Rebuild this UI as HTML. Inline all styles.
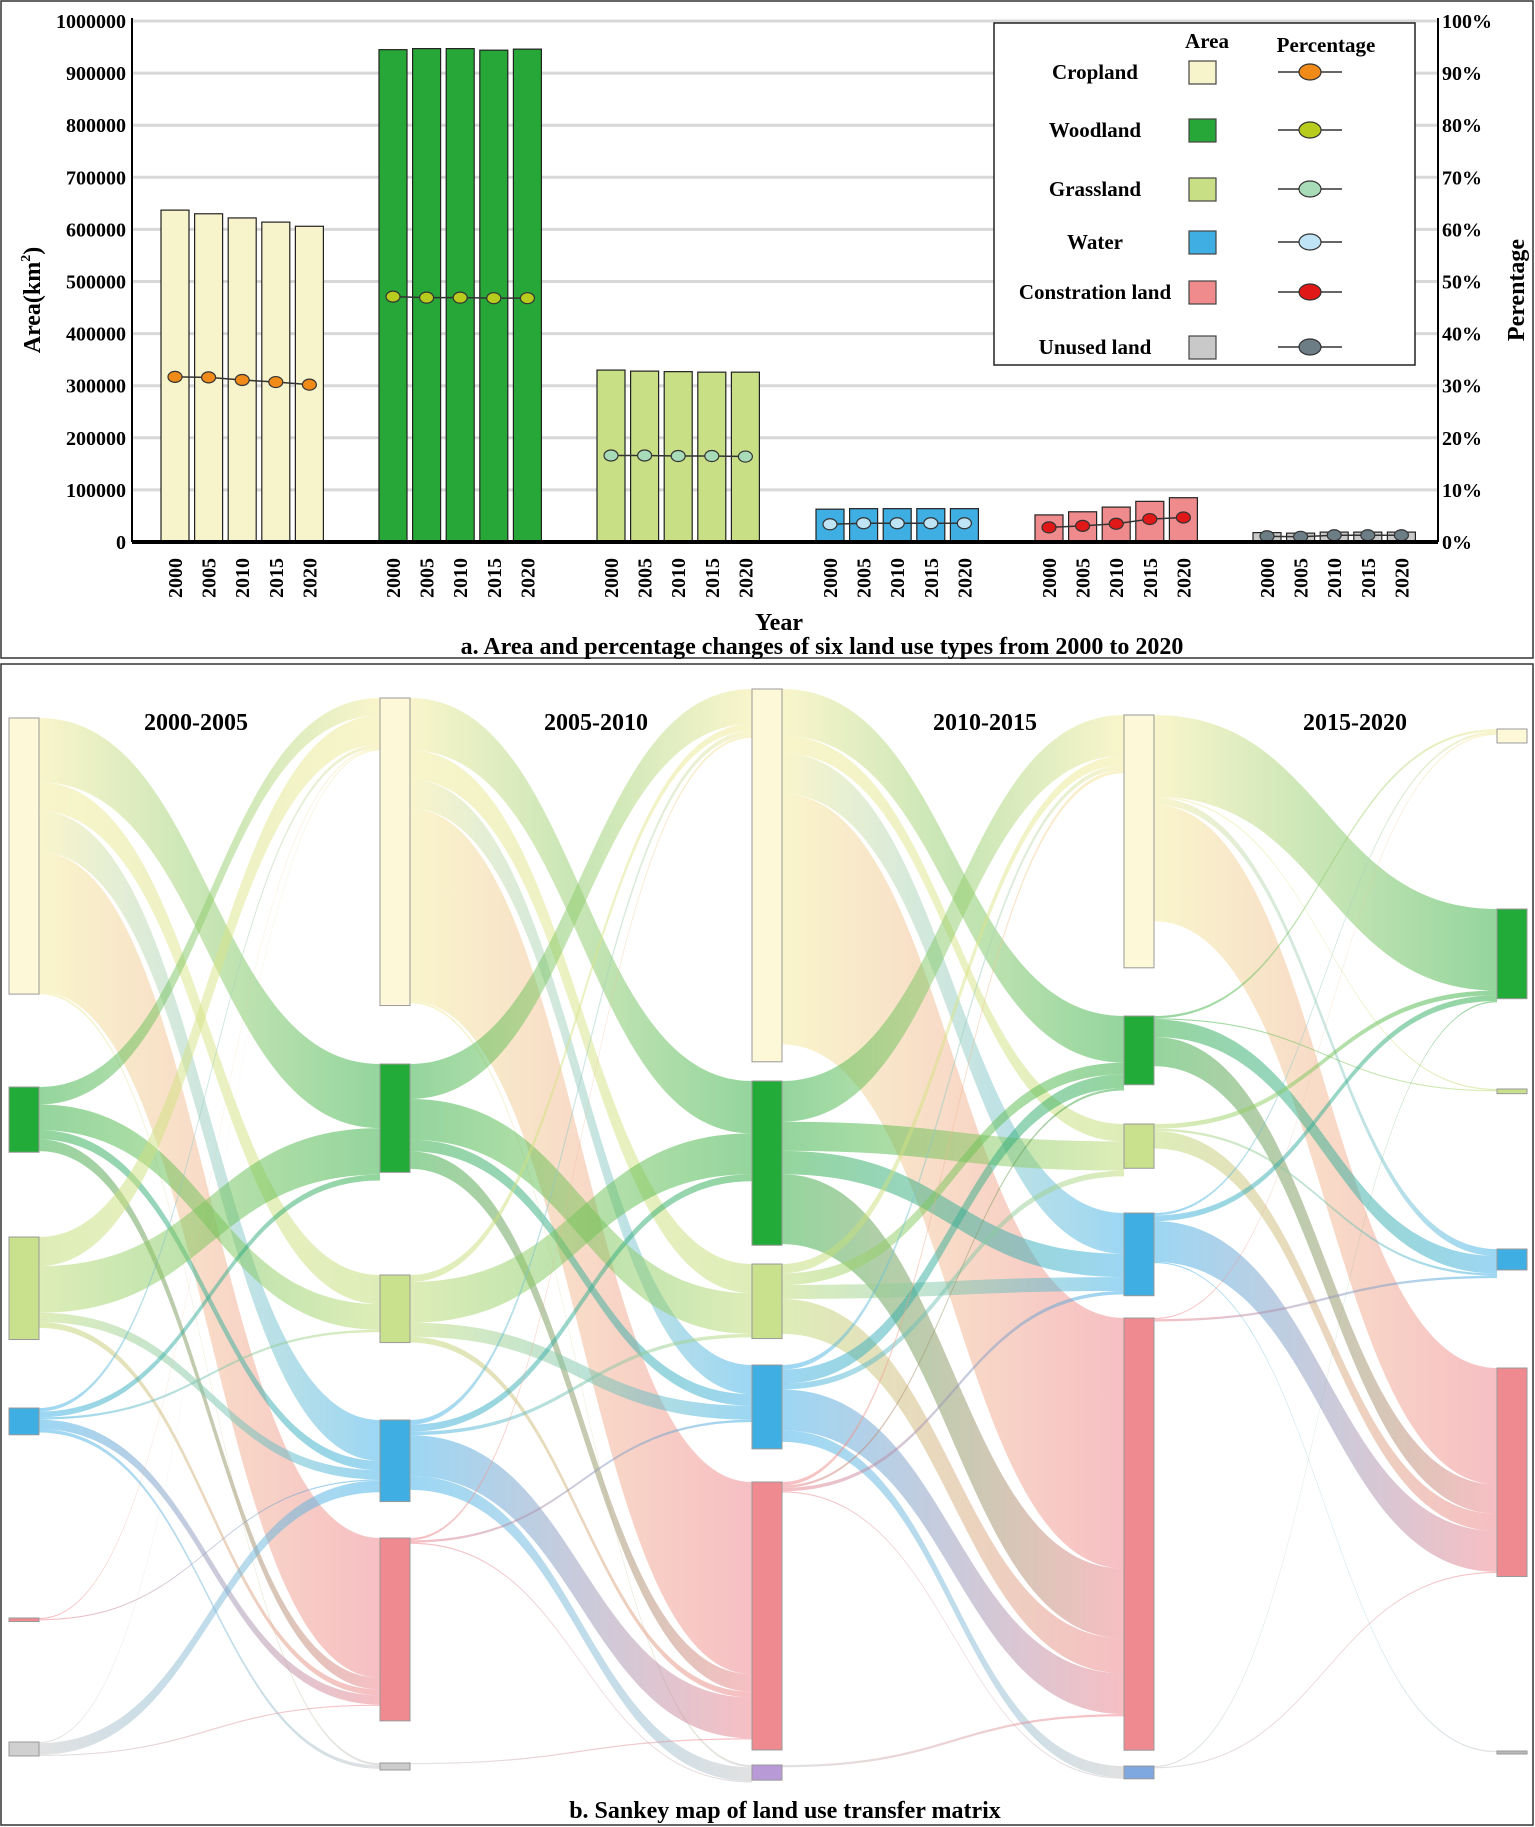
<!DOCTYPE html>
<html><head><meta charset="utf-8">
<style>
html,body{margin:0;padding:0;background:#fff;}
svg{display:block;font-family:"Liberation Serif",serif;font-weight:bold;}
</style></head>
<body>
<svg id="fig" width="1535" height="1827" viewBox="0 0 1535 1827" xmlns="http://www.w3.org/2000/svg">
<rect x="1" y="1" width="1532" height="657" fill="none" stroke="#333" stroke-width="1.5"/>
<rect x="1" y="664" width="1532" height="1161" fill="none" stroke="#333" stroke-width="1.5"/>
<g id="chartA"></g>
<g id="sankey"></g>
</svg>
<script>
// ---------- Chart A data ----------
const categories = ["Cropland","Woodland","Grassland","Water","Constration land","Unused land"];
const years = ["2000","2005","2010","2015","2020"];
const areaCropland = [637000,630000,622000,614000,606000];
const areaWoodland = [945000,947000,947000,944000,946000];
const areaGrassland = [330000,328000,327000,326000,326000];
const areaWater = [63000,64000,64000,64000,64000];
const areaConstruction = [52000,58000,67000,78000,85000];
const areaUnused = [18000,17000,19000,19000,19000];
const pctCropland = [31.7,31.6,31.1,30.7,30.2];
const pctWoodland = [47.1,46.9,46.9,46.8,46.8];
const pctGrassland = [16.6,16.6,16.5,16.5,16.4];
const pctWater = [3.4,3.6,3.6,3.6,3.6];
const pctConstruction = [2.8,3.1,3.5,4.4,4.7];
const pctUnused = [1.1,1.0,1.3,1.3,1.3];
const leftTicks = [0,100000,200000,300000,400000,500000,600000,700000,800000,900000,1000000];
const rightTicks = [0,10,20,30,40,50,60,70,80,90,100];

// ---------- Sankey data (node sizes and transfer flows) ----------
const nodeNames = ["Cropland","Woodland","Grassland","Water","Construction","Unused"];
const periods = ["2000-2005","2005-2010","2010-2015","2015-2020"];
const nodeSize2000 = [237,56,88,23,3,12];
const nodeSize2005 = [264,93,58,70,157,6];
const nodeSize2010 = [320,141,64,72,230,13];
const nodeSize2015 = [217,59,38,71,371,11];
const nodeSize2020 = [12,77,4,18,179,2];
const flows2000_2005 = [[0,1,55],[0,2,25],[0,3,35],[0,4,120],[0,5,2],[1,0,15],[1,2,22],[1,3,8],[1,4,10],[2,0,25],[2,1,40],[2,3,8],[2,4,5],[3,0,3],[3,1,5],[3,2,2],[3,4,8],[3,5,3],[4,0,1],[4,3,1],[5,0,1],[5,3,10],[5,4,1]];
const flows2005_2010 = [[0,1,45],[0,2,25],[0,3,25],[0,4,165],[0,5,2],[1,0,30],[1,2,35],[1,3,10],[1,4,15],[2,0,6],[2,1,35],[2,3,12],[2,4,5],[3,0,4],[3,1,6],[3,2,3],[3,4,35],[3,5,12],[4,0,2],[4,3,2],[4,5,1],[5,4,1]];
const flows2010_2015 = [[0,1,40],[0,2,15],[0,3,35],[0,4,215],[1,0,35],[1,2,25],[1,3,20],[1,4,60],[2,0,8],[2,1,10],[2,3,12],[2,4,30],[3,0,4],[3,1,12],[3,2,5],[3,4,35],[3,5,10],[4,0,3],[4,1,2],[4,3,3],[4,5,1],[5,4,2]];
const flows2015_2020 = [[0,1,70],[0,2,1],[0,3,6],[0,4,100],[1,0,2],[1,2,1],[1,3,15],[1,4,25],[2,1,4],[2,3,2],[2,4,15],[3,0,2],[3,1,5],[3,4,35],[3,5,1],[4,0,1],[4,3,2],[5,1,1],[5,4,1]];

const NS="http://www.w3.org/2000/svg";
function mk(tag,attrs,parent){const e=document.createElementNS(NS,tag);for(const k in attrs)e.setAttribute(k,attrs[k]);parent.appendChild(e);return e;}

// ---------- Chart A ----------
(function(){
const g=document.getElementById('chartA');
const X0=132,X1=1438,Y0=542,Y1=21;
const yA=v=>Y0-(v/1000000)*(Y0-Y1);
const yP=v=>Y0-(v/100)*(Y0-Y1);
const groupStart=[175,393,611,830,1049,1267],barStep=33.6,barW=28;
const xBar=(gi,yi)=>groupStart[gi]+yi*barStep;
const areas=[areaCropland,areaWoodland,areaGrassland,areaWater,areaConstruction,areaUnused];
const pcts=[pctCropland,pctWoodland,pctGrassland,pctWater,pctConstruction,pctUnused];
const fills=["#f7f3cb","#27a737","#c9df86","#3eaee3","#ef8b8d","#c9c9c9"];
const dots=["#f08a18","#b8cc1e","#a8dcb8","#bfe4f6","#e01818","#6c7d86"];
leftTicks.forEach(t=>{
  if(t>0){const l=mk('line',{x1:X0,x2:X1,y1:yA(t),y2:yA(t),stroke:'#d8d8d8','stroke-width':3},g);
  
  }
  const tx=mk('text',{x:126,y:yA(t)+7,'text-anchor':'end','font-size':20},g);tx.textContent=t;
  
  
});
rightTicks.forEach(t=>{
  const tx=mk('text',{x:1442,y:yP(t)+7,'font-size':20},g);tx.textContent=t+'%';
  
  
});
mk('line',{x1:X0,x2:X0,y1:Y1-3,y2:Y0,stroke:'#000','stroke-width':2},g);
mk('line',{x1:X1,x2:X1,y1:Y1-3,y2:Y0,stroke:'#000','stroke-width':2},g);
areas.forEach((arr,gi)=>{
  arr.forEach((v,yi)=>{
    const r=mk('rect',{x:xBar(gi,yi)-barW/2,y:yA(v),width:barW,height:Y0-yA(v),fill:fills[gi],stroke:'#222','stroke-width':1.2},g);
    
    
    const t=mk('text',{transform:`translate(${xBar(gi,yi)+7},598) rotate(-90)`,'font-size':20},g);t.textContent=years[yi];
    
    
  });
  const pts=pcts[gi].map((p,yi)=>xBar(gi,yi)+','+yP(p)).join(' ');
  const pl=mk('polyline',{points:pts,fill:'none',stroke:'#333','stroke-width':1.5},g);
  
  
  pcts[gi].forEach((p,yi)=>{
    const c=mk('ellipse',{cx:xBar(gi,yi),cy:yP(p),rx:7,ry:5.5,fill:dots[gi],stroke:'#333','stroke-width':1.2},g);
    
    
  });
});
mk('line',{x1:X0,x2:X1,y1:Y0,y2:Y0,stroke:'#000','stroke-width':4},g);
let t=mk('text',{transform:'translate(40,300) rotate(-90)','font-size':24,'text-anchor':'middle'},g);
t.innerHTML='Area(km<tspan font-size="14" dy="-10">2</tspan><tspan dy="10">)</tspan>';

t=mk('text',{transform:'translate(1524,290) rotate(-90)','font-size':24,'text-anchor':'middle'},g);t.textContent='Perentage';

t=mk('text',{x:779,y:630,'font-size':24,'text-anchor':'middle'},g);t.textContent='Year';

t=mk('text',{x:822,y:654,'font-size':24,'text-anchor':'middle'},g);t.textContent='a. Area and percentage changes of six land use types from 2000 to 2020';

// legend
const lg=mk('g',{},g);

mk('rect',{x:994,y:23,width:421,height:342,fill:'#fff',stroke:'#222','stroke-width':1.5},lg);
t=mk('text',{x:1207,y:48,'font-size':21,'text-anchor':'middle'},lg);t.textContent='Area';
t=mk('text',{x:1326,y:52,'font-size':21,'text-anchor':'middle'},lg);t.textContent='Percentage';
const rowsY=[72,130,189,242,292,347];
categories.forEach((c,i)=>{
  const e=mk('g',{},lg);
  
  
  const tx=mk('text',{x:1095,y:rowsY[i]+7,'font-size':21,'text-anchor':'middle'},e);tx.textContent=c;
  mk('rect',{x:1189,y:rowsY[i]-11,width:27,height:23,fill:fills[i],stroke:'#444','stroke-width':1.2},e);
  mk('line',{x1:1278,x2:1342,y1:rowsY[i],y2:rowsY[i],stroke:'#333','stroke-width':1.5},e);
  mk('ellipse',{cx:1310,cy:rowsY[i],rx:11,ry:8,fill:dots[i],stroke:'#333','stroke-width':1.2},e);
});
})();

// ---------- Sankey ----------
(function(){
const g=document.getElementById('sankey');
const k=1.165;
const colX=[9,380,752,1124,1497],nodeW=30;
const tops=[[718,1087,1237,1408,1618,1742],[698,1064,1275,1420,1538,1763],[689,1081,1264,1365,1482,1765],[715,1016,1124,1213,1318,1766],[729,909,1089,1249,1368,1751]];
const sizes=[nodeSize2000,nodeSize2005,nodeSize2010,nodeSize2015,nodeSize2020];
const flows=[flows2000_2005,flows2005_2010,flows2010_2015,flows2015_2020];
const colors=["#f3eb98","#2aab3c","#bcdb72","#3aaee8","#ee7f88","#c4c4c4"];
const nodeFill=["#fdf9d8","#22ab38","#c9e08c","#3eaee3","#ef8a90","#d0d0d0"];
const ufill=["#d0d0d0","#cccccc","#b79ad6","#7fa8e0","#bbbbbb"];
const defs=mk('defs',{},g);
let gid=0;
flows.forEach((fl,p)=>{
  const sCol=p,tCol=p+1;
  const width=f=>Math.max(1,f[2]*k);
  const sOff=[0,0,0,0,0,0],tOff=[0,0,0,0,0,0];
  const tOrder=fl.slice().sort((a,b)=>a[1]-b[1]||a[0]-b[0]);
  const tPos=new Map();
  tOrder.forEach(f=>{const h=width(f);tPos.set(f,tops[tCol][f[1]]+tOff[f[1]]);tOff[f[1]]+=h;});
  fl.forEach(f=>{
    const h=width(f);
    const ys=tops[sCol][f[0]]+sOff[f[0]];sOff[f[0]]+=h;
    const yt=tPos.get(f);
    const x0=colX[sCol]+nodeW,x1=colX[tCol],xm=(x0+x1)/2;
    const id='gr'+(gid++);
    const gr=mk('linearGradient',{id:id,x1:0,x2:1,y1:0,y2:0},defs);
    mk('stop',{offset:'0','stop-color':colors[f[0]]},gr);
    mk('stop',{offset:'1','stop-color':colors[f[1]]},gr);
    const d=`M${x0},${ys} C${xm},${ys} ${xm},${yt} ${x1},${yt} L${x1},${yt+h} C${xm},${yt+h} ${xm},${ys+h} ${x0},${ys+h} Z`;
    const path=mk('path',{d:d,fill:`url(#${id})`,'fill-opacity':0.5},g);
    
    
  });
});
sizes.forEach((s,c)=>{
  s.forEach((v,i)=>{
    const f=i===5?ufill[c]:nodeFill[i];
    const r=mk('rect',{x:colX[c],y:tops[c][i],width:nodeW,height:Math.max(3,v*k),fill:f,stroke:'#999','stroke-width':1},g);
    
    
  });
});
const titleX=[196,596,985,1355];
periods.forEach((p,i)=>{
  const t=mk('text',{x:titleX[i],y:730,'font-size':24,'text-anchor':'middle'},g);t.textContent=p;
  
  
});
const cap=mk('text',{x:785,y:1818,'font-size':24,'text-anchor':'middle'},g);cap.textContent='b. Sankey map of  land use transfer matrix';


})();
</script>
</body></html>
